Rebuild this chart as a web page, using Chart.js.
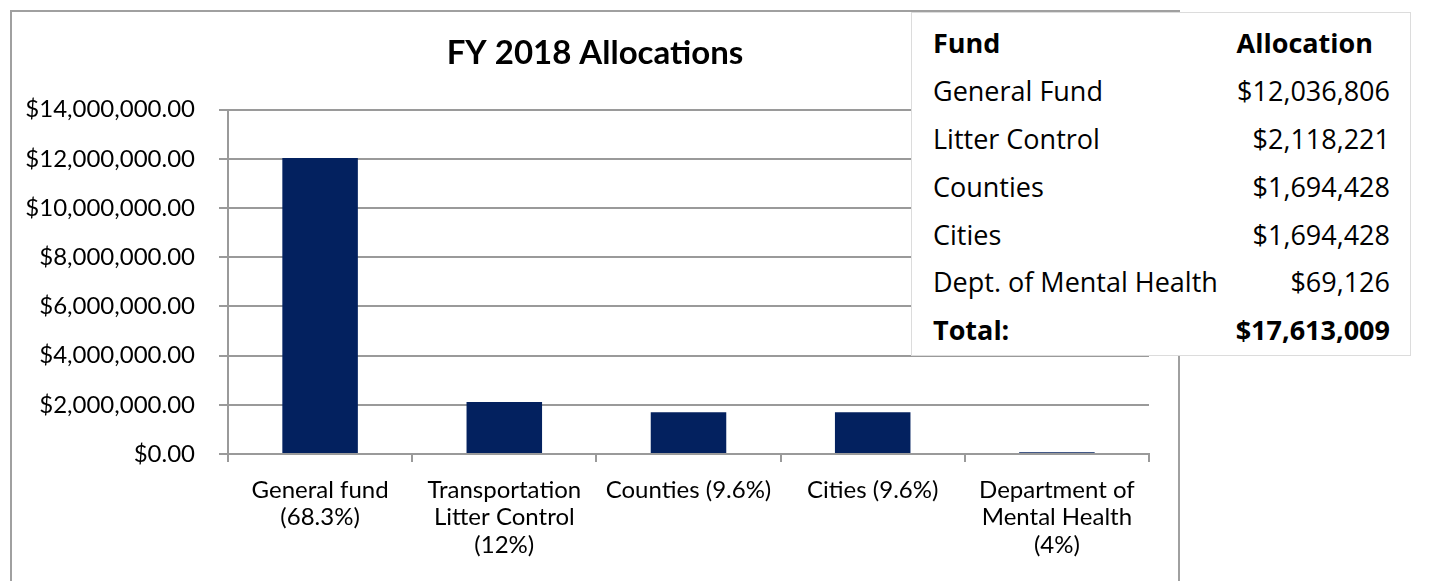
<!DOCTYPE html>
<html>
<head>
<meta charset="utf-8">
<script src="https://cdn.jsdelivr.net/npm/chart.js@4"></script>
<style>
  html, body { margin: 0; padding: 0; background: #fff; overflow: hidden; }
  #box {
    position: absolute; left: 10px; top: 10px;
    width: 1166px; height: 580px;
    border: 2px solid #a0a0a0;
  }
  #box canvas { position: absolute; left: 0; top: 0; }
  #fundTable {
    position: absolute; left: 911px; top: 12px;
    width: 500px; height: 344px;
    background: #fff; border: 1px solid #dcdcdc;
    font-family: "Open Sans", sans-serif; font-size: 27px; color: #000;
    box-sizing: border-box; padding: 6px 20px 5px 21px;
  }
  #fundTable table { border-collapse: collapse; width: 100%; }
  #fundTable td { height: 47.8px; padding: 0; white-space: nowrap; }
  #fundTable td.v { text-align: right; }
  #fundTable tr.b td { font-weight: bold; }
</style>
</head>
<body>
<div id="box"><canvas id="alloc" width="1166" height="569"></canvas></div>
<div id="fundTable"><table id="tbl"></table></div>
<script>
"use strict"

let labels = [
    ["General fund", "(68.3%)"],
    ["Transportation", "Litter Control", "(12%)"],
    "Counties (9.6%)",
    "Cities (9.6%)",
    ["Department of", "Mental Health", "(4%)"]
]
let allocations = [12036806, 2118221, 1694428, 1694428, 69126]
let fundNames = ["General Fund", "Litter Control", "Counties", "Cities", "Dept. of Mental Health"]
let yTicks = [0, 2000000, 4000000, 6000000, 8000000, 10000000, 12000000, 14000000]

// table on the right
let tbl = document.querySelector("#tbl")
let money = v => "$" + v.toLocaleString("en-US")
let rows = '<tr class="b"><td>Fund</td><td class="v" style="padding-right:17px">Allocation</td></tr>'
fundNames.forEach((n, i) => {
    rows += "<tr><td>" + n + '</td><td class="v">' + money(allocations[i]) + "</td></tr>"
})
let total = allocations.reduce((a, b) => a + b, 0)
rows += '<tr class="b"><td>Total:</td><td class="v">' + money(total) + "</td></tr>"
tbl.innerHTML = rows

let gridCol = "#9a9a9a"

let allocChart = new Chart(document.querySelector("#alloc"), {
    type: "bar",
    data: {
        labels: labels,
        datasets: [{
            data: allocations,
            backgroundColor: "#03215f",
            barPercentage: 0.41,
            categoryPercentage: 1
        }]
    },
    options: {
        responsive: false,
        animation: false,
        layout: { padding: 0 },
        plugins: {
            legend: { display: false },
            tooltip: { enabled: false },
            title: {
                display: true,
                text: "FY 2018 Allocations",
                color: "#000",
                font: { family: "Lato", size: 33, weight: "bold" },
                padding: { top: 22, bottom: 36 }
            }
        },
        scales: {
            x: {
                afterFit: s => { s.height = 127 },
                grid: { offset: true, drawOnChartArea: false, tickLength: 8, color: gridCol, lineWidth: 2 },
                border: { color: gridCol, width: 2 },
                ticks: {
                    color: "#000",
                    padding: 14,
                    maxRotation: 0,
                    autoSkip: false,
                    font: { family: "Lato", size: 24, lineHeight: 1.15 }
                }
            },
            y: {
                min: 0,
                max: 14000000,
                afterFit: s => { s.width = 216 },
                afterBuildTicks: s => { s.ticks = yTicks.map(v => ({ value: v })) },
                grid: { color: gridCol, lineWidth: 2, tickLength: 9 },
                border: { color: gridCol, width: 2 },
                ticks: {
                    color: "#000",
                    padding: 24,
                    font: { family: "Lato", size: 24 },
                    callback: v => "$" + v.toLocaleString("en-US", { minimumFractionDigits: 2, maximumFractionDigits: 2 })
                }
            },
            // empty right-hand space so the title stays centred on the box
            yRight: {
                position: "right",
                afterFit: s => { s.width = 29 },
                grid: { display: false },
                border: { display: false },
                ticks: { display: false }
            }
        }
    }
})
</script>
</body>
</html>
